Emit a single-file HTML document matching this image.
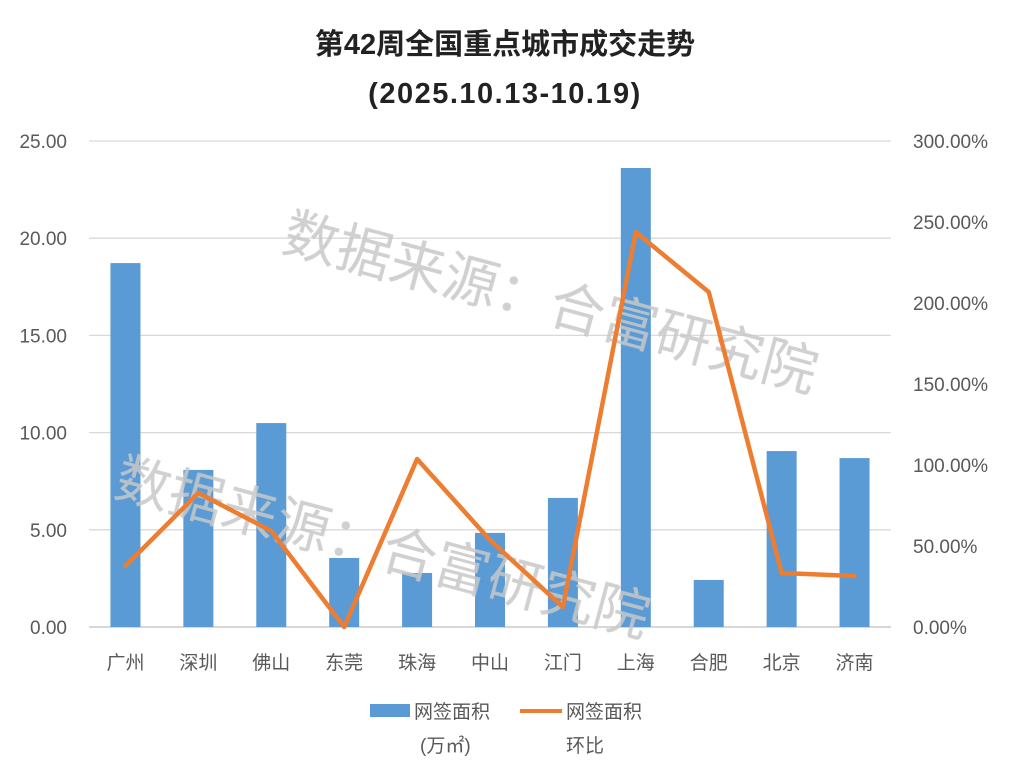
<!DOCTYPE html>
<html><head><meta charset="utf-8"><style>
body{margin:0;background:#fff;}
svg text{font-family:"Liberation Sans","Noto Sans CJK SC",sans-serif;}
</style></head><body>
<svg id="chart" width="1011" height="771" xmlns="http://www.w3.org/2000/svg">
<text x="505" y="54" text-anchor="middle" font-size="29" font-weight="bold" fill="#222">第42周全国重点城市成交走势</text>
<text x="505" y="103" text-anchor="middle" font-size="29" font-weight="bold" fill="#222" letter-spacing="1.5">(2025.10.13-10.19)</text>
<g id="grid"></g><g id="bars"></g>
<g fill="#c8c8c8" font-size="55" opacity="0.85">
<text transform="translate(280,250) rotate(15)">数据来源：合富研究院</text>
<text transform="translate(112,495) rotate(15)">数据来源：合富研究院</text>
</g>
<g id="line"></g><g id="labels"></g>
<g font-size="19" fill="#595959">
<rect x="370" y="704" width="40" height="13" fill="#5b9bd5"/>
<text x="414" y="718">网签面积</text>
<text x="420" y="752">(万㎡)</text>
<line x1="520" y1="711" x2="562" y2="711" stroke="#ed7d31" stroke-width="4"/>
<text x="566" y="718">网签面积</text>
<text x="566" y="752">环比</text>
</g>
</svg>
<script>
const categories=["广州","深圳","佛山","东莞","珠海","中山","江门","上海","合肥","北京","济南"];
const areaValues=[18.72,8.08,10.49,3.55,2.78,4.84,6.64,23.61,2.42,9.05,8.69];
const changeValues=[37.7,82.7,59.3,0,103.7,53.7,12.3,243.8,206.8,33.3,31.5];
const leftTicks=[0,5,10,15,20,25];
const rightTicks=[0,50,100,150,200,250,300];
const NS="http://www.w3.org/2000/svg";
const x0=89,x1=891,yBase=627,yTop=141;
const step=(x1-x0)/categories.length;
const xC=i=>x0+step*(i+0.5);
const yL=v=>yBase-(v/25)*(yBase-yTop);
const yR=v=>yBase-(v/300)*(yBase-yTop);
function mk(tag,attrs,parent,txt){const e=document.createElementNS(NS,tag);for(const k in attrs)e.setAttribute(k,attrs[k]);if(txt!==undefined)e.textContent=txt;document.getElementById(parent).appendChild(e);return e;}
leftTicks.forEach(t=>{
 const l=mk('line',{x1:x0,x2:x1,y1:yL(t),y2:yL(t),stroke:t===0?'#bfbfbf':'#d9d9d9','stroke-width':1.3},'grid');
 
 
 const tx=mk('text',{x:67,y:yL(t)+7,'text-anchor':'end','font-size':19,fill:'#595959'},'labels',t.toFixed(2));
 
 
});
rightTicks.forEach(t=>{
 const tx=mk('text',{x:913,y:yR(t)+7,'font-size':19,fill:'#595959'},'labels',t.toFixed(2)+'%');
 
 
});
categories.forEach((c,i)=>{
 const b=mk('rect',{x:xC(i)-15,y:yL(areaValues[i]),width:30,height:yBase-yL(areaValues[i]),fill:'#5b9bd5'},'bars');
 
 
 const tx=mk('text',{x:xC(i),y:669,'text-anchor':'middle','font-size':19,fill:'#595959'},'labels',c);
 
 
});
const pts=changeValues.map((v,i)=>xC(i)+','+yR(v)).join(' ');
const pl=mk('polyline',{points:pts,fill:'none',stroke:'#ed7d31','stroke-width':4.5,'stroke-linejoin':'round','stroke-linecap':'round'},'line');


</script>
</body></html>
